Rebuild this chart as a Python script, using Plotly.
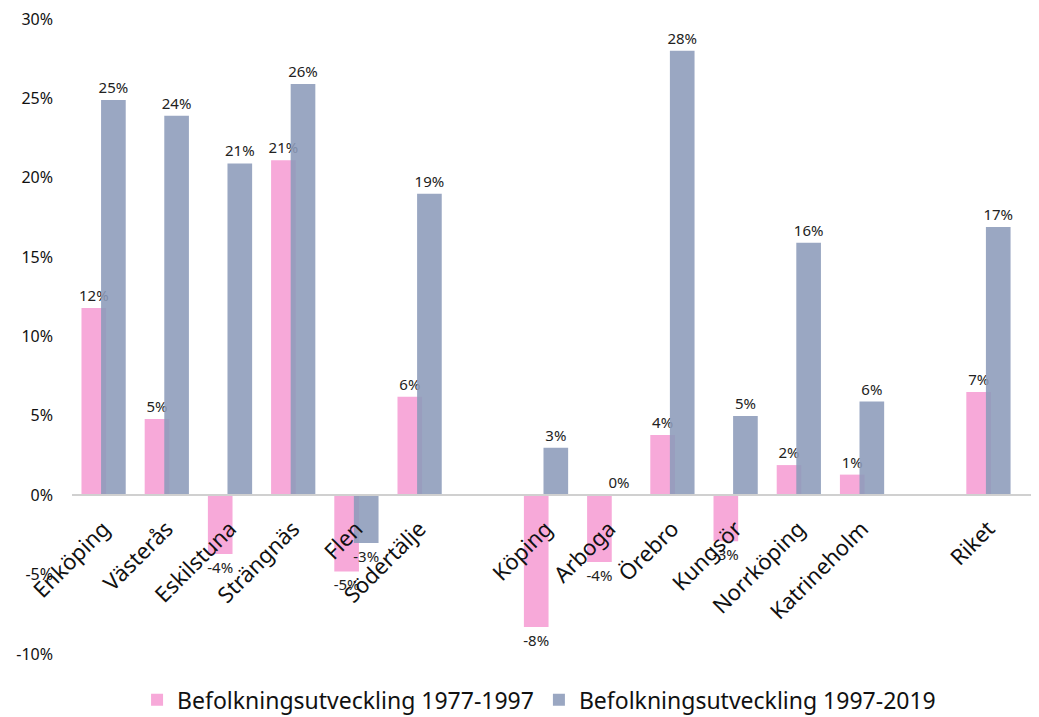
import plotly.graph_objects as go

categories = ["Enköping", "Västerås", "Eskilstuna", "Strängnäs", "Flen", "Södertälje", " ",
              "Köping", "Arboga", "Örebro", "Kungsör", "Norrköping", "Katrineholm", "  ", "Riket"]
series_1977_1997 = [11.8, 4.8, -3.7, 21.1, -4.8, 6.2, None,
                    -8.3, -4.2, 3.8, -2.9, 1.9, 1.3, None, 6.5]
series_1997_2019 = [24.9, 23.9, 20.9, 25.9, -3.0, 19.0, None,
                    3.0, 0.0, 28.0, 5.0, 15.9, 5.9, None, 16.9]
name_1 = "Befolkningsutveckling 1977-1997"
name_2 = "Befolkningsutveckling 1997-2019"
y_ticks = [-10, -5, 0, 5, 10, 15, 20, 25, 30]
y_ticktext = [f"{v}%" for v in y_ticks]

FONT = "Noto Sans"
pink = "#f7a9d9"
grey = "rgba(140,155,185,0.88)"

fig = go.Figure()
fig.add_trace(go.Bar(
    x=categories, y=series_1977_1997, name=name_1,
    marker=dict(color=pink, line=dict(width=0)),
    width=0.39, offset=-0.35,
    texttemplate="%{y:.0f}%", textposition="outside", constraintext="none",
    textfont=dict(family=FONT, size=15, color="#222"),
    cliponaxis=False,
))
fig.add_trace(go.Bar(
    x=categories, y=series_1997_2019, name=name_2,
    marker=dict(color=grey, line=dict(width=0)),
    width=0.39, offset=-0.04,
    texttemplate="%{y:.0f}%", textposition="outside", constraintext="none",
    textfont=dict(family=FONT, size=15, color="#222"),
    cliponaxis=False,
))

# page body adds an 8px offset; size the figure to fill the remaining window
fig.update_layout(
    width=1031, height=709,
    margin=dict(l=64, r=0, t=11, b=63, autoexpand=False),
    paper_bgcolor="white", plot_bgcolor="white",
    barmode="overlay",
    font=dict(family=FONT, color="#111"),
    showlegend=True,
    legend=dict(orientation="h", x=0.483, xanchor="center", y=-0.072, yanchor="middle",
                font=dict(family=FONT, size=23, color="#111"),
                itemwidth=30, traceorder="normal"),
    xaxis=dict(
        type="category", categoryorder="array", categoryarray=categories,
        range=[-0.5, 14.8],
        anchor="free", position=0.25,
        showline=True, linecolor="#d0d0d0", linewidth=2,
        showgrid=False, zeroline=False, ticks="",
        tickangle=-45, ticklabelstandoff=11,
        tickfont=dict(family=FONT, size=22, color="#111"),
    ),
    yaxis=dict(
        range=[-10, 30], tickvals=y_ticks, ticktext=y_ticktext,
        showgrid=False, zeroline=False, showline=False, ticks="",
        ticklabelstandoff=18, ticklabeloverflow="allow",
        tickfont=dict(family=FONT, size=16, color="#111"),
    ),
)

fig.write_html("out.html")
